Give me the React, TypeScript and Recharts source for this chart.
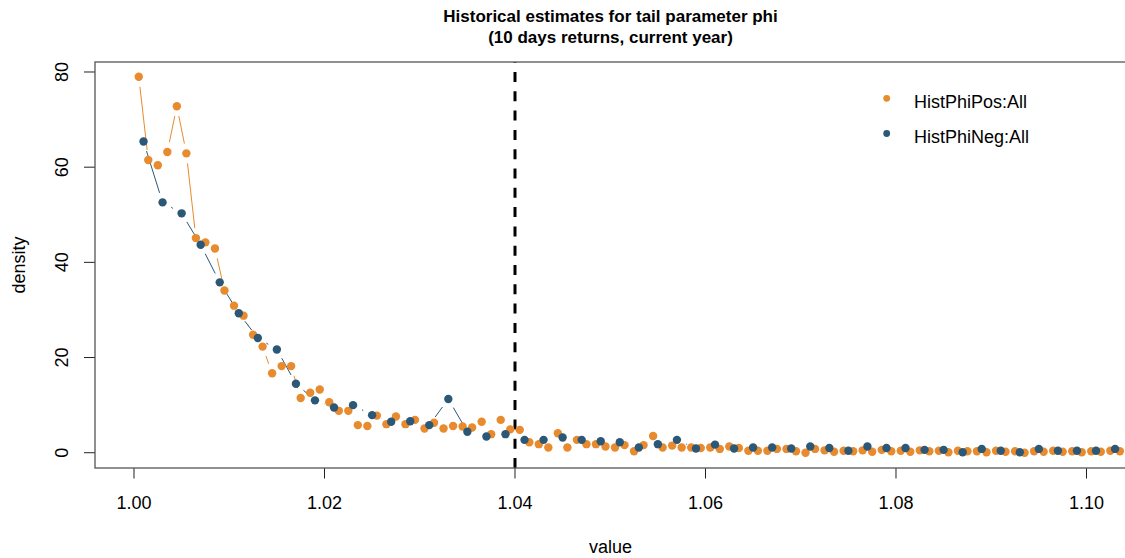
import React from "react";
import { ComposedChart, Line, XAxis, YAxis, ReferenceLine } from "recharts";

const ORANGE = "#E88A2E";
const BLUE = "#2C5878";
const FONT = "'Liberation Sans', Arial, sans-serif";

// bin centres (value axis)
const posX = [
  1.0005, 1.0015, 1.0025, 1.0035, 1.0045, 1.0055, 1.0065, 1.0075, 1.0085, 1.0095,
  1.0105, 1.0115, 1.0125, 1.0135, 1.0145, 1.0155, 1.0165, 1.0175, 1.0185, 1.0195,
  1.0205, 1.0215, 1.0225, 1.0235, 1.0245, 1.0255, 1.0265, 1.0275, 1.0285, 1.0295,
  1.0305, 1.0315, 1.0325, 1.0335, 1.0345, 1.0355, 1.0365, 1.0375, 1.0385, 1.0395,
  1.0405, 1.0415, 1.0425, 1.0435, 1.0445, 1.0455, 1.0465, 1.0475, 1.0485, 1.0495,
  1.0505, 1.0515, 1.0525, 1.0535, 1.0545, 1.0555, 1.0565, 1.0575, 1.0585, 1.0595,
  1.0605, 1.0615, 1.0625, 1.0635, 1.0645, 1.0655, 1.0665, 1.0675, 1.0685, 1.0695,
  1.0705, 1.0715, 1.0725, 1.0735, 1.0745, 1.0755, 1.0765, 1.0775, 1.0785, 1.0795,
  1.0805, 1.0815, 1.0825, 1.0835, 1.0845, 1.0855, 1.0865, 1.0875, 1.0885, 1.0895,
  1.0905, 1.0915, 1.0925, 1.0935, 1.0945, 1.0955, 1.0965, 1.0975, 1.0985, 1.0995,
  1.1005, 1.1015, 1.1025, 1.1035,
];

const posY = [
  79.0, 61.5, 60.4, 63.2, 72.8, 62.9, 45.1, 44.2, 42.9, 34.1,
  30.9, 28.8, 24.8, 22.3, 16.7, 18.2, 18.2, 11.5, 12.6, 13.3,
  10.6, 8.8, 8.8, 5.8, 5.6, 7.8, 6.0, 7.6, 6.0, 6.9,
  5.1, 6.3, 5.1, 5.6, 5.5, 5.3, 6.5, 3.9, 6.9, 4.9,
  4.8, 2.2, 1.8, 1.1, 4.1, 1.1, 2.7, 1.8, 1.8, 1.3,
  1.1, 1.6, 0.3, 1.6, 3.5, 1.1, 1.5, 1.1, 1.1, 1.0,
  1.1, 0.8, 1.3, 1.0, 0.4, 0.4, 0.4, 0.8, 0.8, 0.3,
  0.0, 0.8, 0.5, 0.2, 0.4, 0.3, 0.5, 0.2, 0.6, 0.3,
  0.4, 0.2, 0.5, 0.3, 0.4, 0.1, 0.4, 0.3, 0.3, 0.1,
  0.4, 0.2, 0.3, 0.0, 0.3, 0.2, 0.4, 0.2, 0.3, 0.1,
  0.3, 0.2, 0.4, 0.3,
];

const negX = [
  1.001, 1.003, 1.005, 1.007, 1.009, 1.011, 1.013, 1.015, 1.017, 1.019,
  1.021, 1.023, 1.025, 1.027, 1.029, 1.031, 1.033, 1.035, 1.037, 1.039,
  1.041, 1.043, 1.045, 1.047, 1.049, 1.051, 1.053, 1.055, 1.057, 1.059,
  1.061, 1.063, 1.065, 1.067, 1.069, 1.071, 1.073, 1.075, 1.077, 1.079,
  1.081, 1.083, 1.085, 1.087, 1.089, 1.091, 1.093, 1.095, 1.097, 1.099,
  1.101, 1.103,
];

const negY = [
  65.4, 52.6, 50.3, 43.7, 35.8, 29.3, 24.1, 21.7, 14.5, 11.0,
  9.5, 10.0, 7.9, 6.5, 6.6, 5.8, 11.3, 4.4, 3.4, 3.9,
  2.7, 2.7, 3.2, 2.7, 2.4, 2.2, 1.1, 1.8, 2.7, 0.9,
  1.7, 0.9, 1.1, 1.1, 0.9, 1.3, 1.0, 0.4, 1.3, 1.0,
  1.0, 0.6, 0.6, 0.1, 0.8, 0.4, 0.1, 0.8, 0.4, 0.4,
  0.4, 0.8,
];

const xTicks = [1.0, 1.02, 1.04, 1.06, 1.08, 1.1];
const xTickLabels = ["1.00", "1.02", "1.04", "1.06", "1.08", "1.10"];
const yTicks = [0, 20, 40, 60, 80];
const yTickLabels = ["0", "20", "40", "60", "80"];

const seriesNames = ["HistPhiPos:All", "HistPhiNeg:All"];
const titleLines = ["Historical estimates for tail parameter phi", "(10 days returns, current year)"];
const xLabel = "value";
const yLabel = "density";
const threshold = 1.04;

const X_DOMAIN: [number, number] = [0.995906, 1.104042];
const Y_DOMAIN: [number, number] = [-3.21, 82.1];

// plot-area size, used only to size the "type b" gaps of the connecting lines
const PLOT_W = 1030;
const PLOT_H = 406;
const GAP = 10;

const posData = posX.map((x, i) => ({ x, y: posY[i] }));
const negData = negX.map((x, i) => ({ x, y: negY[i] }));

// dash pattern that leaves a gap around every point (like R's type = "b")
function gapDash(xs: number[], ys: number[], g: number): string {
  const sx = PLOT_W / (X_DOMAIN[1] - X_DOMAIN[0]);
  const sy = PLOT_H / (Y_DOMAIN[1] - Y_DOMAIN[0]);
  const parts: number[] = [0];
  let pendingGap = 0;
  for (let i = 0; i < xs.length - 1; i++) {
    const dx = (xs[i + 1] - xs[i]) * sx;
    const dy = (ys[i + 1] - ys[i]) * sy;
    const L = Math.sqrt(dx * dx + dy * dy);
    if (L <= 2 * g) {
      pendingGap += L;
    } else {
      pendingGap += g;
      parts.push(pendingGap);
      parts.push(L - 2 * g);
      pendingGap = g;
    }
  }
  parts.push(pendingGap + 10000);
  return parts.map((v) => v.toFixed(2)).join(" ");
}

const posDash = gapDash(posX, posY, GAP);
const negDash = gapDash(negX, negY, GAP);

const XTick = (props: any) => {
  const { x, payload } = props;
  const idx = xTicks.indexOf(payload.value);
  return (
    <text x={x} y={509} textAnchor="middle" fontFamily={FONT} fontSize={18} fill="#000">
      {idx >= 0 ? xTickLabels[idx] : String(payload.value)}
    </text>
  );
};

const YTick = (props: any) => {
  const { y, payload } = props;
  const idx = yTicks.indexOf(payload.value);
  return (
    <text
      x={68}
      y={y}
      transform={`rotate(-90, 68, ${y})`}
      textAnchor="middle"
      fontFamily={FONT}
      fontSize={18}
      fill="#000"
    >
      {idx >= 0 ? yTickLabels[idx] : String(payload.value)}
    </text>
  );
};

const makeDot = (color: string) => (props: any) => {
  const { cx, cy, index } = props;
  if (cx == null || cy == null) return <g key={index} />;
  return <circle key={index} cx={cx} cy={cy} r={4.2} fill={color} stroke="none" />;
};

export default function App() {
  return (
    <div style={{ position: "absolute", left: 0, top: 0, width: 1125, height: 558, background: "#fff", overflow: "hidden" }}>
      <ComposedChart width={1125} height={558} margin={{ top: 62, right: 0, bottom: 0, left: 0 }}>
        <XAxis
          type="number"
          dataKey="x"
          domain={X_DOMAIN}
          allowDataOverflow
          ticks={xTicks}
          tick={<XTick />}
          tickSize={10.5}
          tickLine={{ stroke: "#222", strokeWidth: 1 }}
          axisLine={false}
          height={90}
          interval={0}
        />
        <YAxis
          type="number"
          domain={Y_DOMAIN}
          allowDataOverflow
          ticks={yTicks}
          tick={<YTick />}
          tickSize={11}
          tickLine={{ stroke: "#222", strokeWidth: 1 }}
          axisLine={false}
          width={95}
          interval={0}
        />
        <ReferenceLine x={threshold} stroke="#000" strokeWidth={3} strokeDasharray="10 9.3" />
        <Line
          data={posData}
          dataKey="y"
          type="linear"
          stroke={ORANGE}
          strokeWidth={1}
          strokeDasharray={posDash}
          dot={makeDot(ORANGE)}
          activeDot={false}
          isAnimationActive={false}
        />
        <Line
          data={negData}
          dataKey="y"
          type="linear"
          stroke={BLUE}
          strokeWidth={1}
          strokeDasharray={negDash}
          dot={makeDot(BLUE)}
          activeDot={false}
          isAnimationActive={false}
        />
      </ComposedChart>
      <svg
        width={1125}
        height={558}
        style={{ position: "absolute", left: 0, top: 0, pointerEvents: "none" }}
      >
        <rect x={95} y={62} width={1031} height={406} fill="none" stroke="#555" strokeWidth={1.3} />
        <text x={610.5} y={22.3} textAnchor="middle" fontFamily={FONT} fontWeight="bold" fontSize={17} fill="#000">
          {titleLines[0]}
        </text>
        <text x={610.5} y={43.3} textAnchor="middle" fontFamily={FONT} fontWeight="bold" fontSize={17} fill="#000">
          {titleLines[1]}
        </text>
        <text x={610.5} y={553} textAnchor="middle" fontFamily={FONT} fontSize={18} fill="#000">
          {xLabel}
        </text>
        <text x={25} y={265} transform="rotate(-90, 25, 265)" textAnchor="middle" fontFamily={FONT} fontSize={18} fill="#000">
          {yLabel}
        </text>
        <circle cx={886.7} cy={98.3} r={3.4} fill={ORANGE} />
        <circle cx={886.7} cy={133.5} r={3.4} fill={BLUE} />
        <text x={914} y={107.5} fontFamily={FONT} fontSize={18} fill="#000">
          {seriesNames[0]}
        </text>
        <text x={914} y={142.8} fontFamily={FONT} fontSize={18} fill="#000">
          {seriesNames[1]}
        </text>
      </svg>
    </div>
  );
}
